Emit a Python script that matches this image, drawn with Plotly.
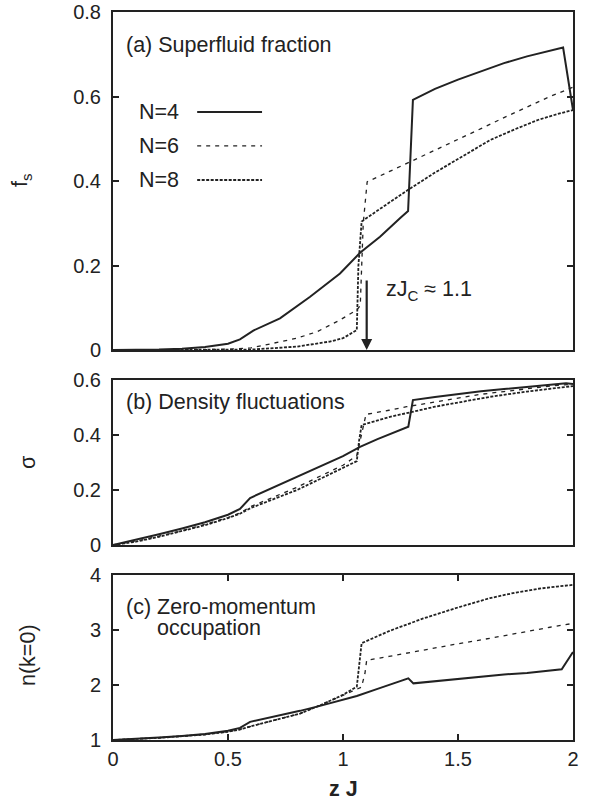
import plotly.graph_objects as go

# ---------------- data ----------------
# Panel (a): superfluid fraction f_s vs zJ
fs_n4_x = [0, 0.1, 0.2, 0.3, 0.4, 0.5, 0.552, 0.61, 0.726, 0.857, 0.987, 1.074, 1.161, 1.25, 1.283, 1.304, 1.4, 1.5, 1.6, 1.7, 1.8, 1.9, 1.957, 2.0]
fs_n4_y = [0, 0.0003, 0.001, 0.003, 0.007, 0.015, 0.025, 0.046, 0.075, 0.126, 0.181, 0.230, 0.268, 0.313, 0.329, 0.592, 0.618, 0.640, 0.660, 0.679, 0.695, 0.708, 0.716, 0.568]
fs_n6_x = [0, 0.3, 0.5, 0.6, 0.697, 0.8, 0.886, 0.987, 1.06, 1.075, 1.088, 1.10, 1.105, 1.2, 1.3, 1.4, 1.5, 1.6, 1.7, 1.8, 1.9, 2.0]
fs_n6_y = [0, 0, 0.002, 0.005, 0.016, 0.028, 0.043, 0.071, 0.095, 0.105, 0.30, 0.38, 0.398, 0.422, 0.447, 0.473, 0.498, 0.524, 0.55, 0.575, 0.60, 0.622]
fs_n8_x = [0, 0.4, 0.6, 0.8, 0.943, 1.0, 1.06, 1.067, 1.081, 1.15, 1.2, 1.283, 1.4, 1.5, 1.64, 1.75, 1.85, 1.93, 2.0]
fs_n8_y = [0, 0, 0.001, 0.008, 0.02, 0.028, 0.047, 0.2, 0.304, 0.33, 0.349, 0.379, 0.42, 0.452, 0.497, 0.523, 0.545, 0.558, 0.568]

# Panel (b): density fluctuations sigma vs zJ
sg_n4_x = [0, 0.1, 0.2, 0.3, 0.4, 0.5, 0.552, 0.596, 0.7, 0.8, 0.9, 1.0, 1.074, 1.15, 1.284, 1.304, 1.4, 1.5, 1.6, 1.7, 1.8, 1.9, 1.97, 2.0]
sg_n4_y = [0, 0.019, 0.039, 0.06, 0.083, 0.11, 0.131, 0.171, 0.21, 0.246, 0.283, 0.323, 0.357, 0.385, 0.43, 0.527, 0.538, 0.549, 0.559, 0.567, 0.575, 0.582, 0.588, 0.585]
sg_n6_x = [0, 0.1, 0.2, 0.3, 0.4, 0.5, 0.55, 0.6, 0.7, 0.8, 0.9, 1.0, 1.06, 1.08, 1.10, 1.2, 1.277, 1.4, 1.5, 1.6, 1.7, 1.8, 1.9, 2.0]
sg_n6_y = [0, 0.014, 0.032, 0.052, 0.075, 0.1, 0.116, 0.14, 0.175, 0.21, 0.25, 0.29, 0.325, 0.4, 0.475, 0.49, 0.503, 0.52, 0.535, 0.548, 0.558, 0.568, 0.578, 0.585]
sg_n8_x = [0, 0.1, 0.2, 0.3, 0.4, 0.5, 0.55, 0.6, 0.7, 0.8, 0.9, 1.0, 1.06, 1.07, 1.081, 1.2, 1.304, 1.4, 1.5, 1.64, 1.8, 1.9, 2.0]
sg_n8_y = [0, 0.012, 0.03, 0.05, 0.072, 0.098, 0.113, 0.135, 0.168, 0.2, 0.24, 0.28, 0.305, 0.38, 0.436, 0.465, 0.485, 0.503, 0.518, 0.539, 0.558, 0.569, 0.578]

# Panel (c): zero-momentum occupation n(k=0) vs zJ
nk_n4_x = [0, 0.1, 0.2, 0.3, 0.4, 0.5, 0.552, 0.596, 0.7, 0.813, 0.9, 1.0, 1.06, 1.15, 1.284, 1.306, 1.4, 1.5, 1.6, 1.7, 1.8, 1.951, 2.0]
nk_n4_y = [1, 1.02, 1.045, 1.075, 1.11, 1.17, 1.22, 1.33, 1.42, 1.53, 1.62, 1.73, 1.8, 1.93, 2.12, 2.03, 2.07, 2.11, 2.15, 2.19, 2.22, 2.285, 2.6]
nk_n6_x = [0, 0.1, 0.2, 0.3, 0.4, 0.5, 0.55, 0.6, 0.7, 0.813, 0.9, 1.0, 1.08, 1.095, 1.103, 1.2, 1.3, 1.4, 1.5, 1.6, 1.7, 1.8, 1.9, 2.0]
nk_n6_y = [1, 1.015, 1.04, 1.07, 1.1, 1.15, 1.19, 1.25, 1.36, 1.48, 1.63, 1.82, 1.96, 2.2, 2.45, 2.52, 2.6, 2.67, 2.75, 2.82, 2.9, 2.97, 3.05, 3.12]
nk_n8_x = [0, 0.1, 0.2, 0.3, 0.4, 0.5, 0.55, 0.6, 0.7, 0.813, 0.9, 1.0, 1.06, 1.07, 1.081, 1.2, 1.349, 1.5, 1.639, 1.75, 1.85, 1.93, 2.0]
nk_n8_y = [1, 1.015, 1.04, 1.07, 1.1, 1.15, 1.19, 1.25, 1.36, 1.48, 1.63, 1.82, 1.97, 2.4, 2.76, 2.98, 3.21, 3.41, 3.58, 3.68, 3.75, 3.79, 3.82]

series_names = ["N=4", "N=6", "N=8"]
x_ticks = [0, 0.5, 1, 1.5, 2]
x_tick_labels = ["0", "0.5", "1", "1.5", "2"]
fs_ticks = [0, 0.2, 0.4, 0.6, 0.8]
fs_tick_labels = ["0", "0.2", "0.4", "0.6", "0.8"]
sg_ticks = [0, 0.2, 0.4, 0.6]
sg_tick_labels = ["0", "0.2", "0.4", "0.6"]
nk_ticks = [1, 2, 3, 4]
nk_tick_labels = ["1", "2", "3", "4"]

# ---------------- styling ----------------
INK = "#222222"
FONT = "Liberation Sans, Arial, Helvetica, sans-serif"
FS = 20      # tick labels
FA = 21.5    # annotation text
styles = [
    dict(color=INK, width=2.0, dash="solid"),
    dict(color=INK, width=1.3, dash="4px,5px"),
    dict(color=INK, width=1.8, dash="3px,1.5px"),
]

fig = go.Figure()

panels = [
    ("x", "y", [(fs_n4_x, fs_n4_y), (fs_n6_x, fs_n6_y), (fs_n8_x, fs_n8_y)]),
    ("x2", "y2", [(sg_n4_x, sg_n4_y), (sg_n6_x, sg_n6_y), (sg_n8_x, sg_n8_y)]),
    ("x3", "y3", [(nk_n4_x, nk_n4_y), (nk_n6_x, nk_n6_y), (nk_n8_x, nk_n8_y)]),
]
for xa, ya, data in panels:
    for (xs, ys), st, name in zip(data, styles, series_names):
        fig.add_trace(go.Scatter(x=xs, y=ys, mode="lines", line=st, name=name,
                                 xaxis=xa, yaxis=ya, showlegend=False, hoverinfo="skip"))

# plot area geometry (pixels): left 113, right 573, top 12, bottom 740
W, H = 598, 804
ML, MR, MT, MB = 113, 25, 12, 64
ph = H - MT - MB
pw = W - ML - MR


def dom(top_px, bot_px):
    return [(H - MB - bot_px) / ph, (H - MB - top_px) / ph]


common_x = dict(range=[0, 2], showline=True, linecolor=INK, linewidth=2, mirror=True,
                showgrid=False, zeroline=False, tickvals=x_ticks, ticktext=x_tick_labels,
                automargin=False)
common_y = dict(showline=True, linecolor=INK, linewidth=2, mirror="ticks", showgrid=False,
                zeroline=False, ticks="inside", ticklen=6, tickwidth=1.5, tickcolor=INK,
                tickfont=dict(size=FS, color=INK), ticklabelstandoff=6, automargin=False)

fig.update_layout(
    width=W, height=H,
    margin=dict(l=ML, r=MR, t=MT, b=MB, autoexpand=False),
    paper_bgcolor="white", plot_bgcolor="white",
    font=dict(family=FONT, size=FA, color=INK),
    showlegend=False,
    xaxis=dict(**common_x, anchor="y", showticklabels=False, ticks=""),
    xaxis2=dict(**common_x, anchor="y2", showticklabels=False, ticks="", matches="x"),
    xaxis3=dict(**common_x, anchor="y3", ticks="inside", ticklen=6, tickwidth=1.5, tickcolor=INK,
                tickfont=dict(size=FS, color=INK), matches="x"),
    yaxis=dict(**common_y, domain=dom(12, 350), range=[0, 0.8], tickvals=fs_ticks, ticktext=fs_tick_labels, anchor="x"),
    yaxis2=dict(**common_y, domain=dom(380, 545), range=[0, 0.6], tickvals=sg_ticks, ticktext=sg_tick_labels, anchor="x2"),
    yaxis3=dict(**common_y, domain=dom(575, 740), range=[1, 4], tickvals=nk_ticks, ticktext=nk_tick_labels, anchor="x3"),
)

# xaxis3 mirrored ticks on top
fig.update_layout(xaxis3=dict(mirror="ticks"))

ann = []
# panel titles
ann.append(dict(text="(a) Superfluid fraction", xref="x domain", yref="y domain", x=0.024, y=0.902,
                xanchor="left", yanchor="middle", showarrow=False))
ann.append(dict(text="(b) Density fluctuations", xref="x2 domain", yref="y2 domain", x=0.024, y=0.867,
                xanchor="left", yanchor="middle", showarrow=False))
ann.append(dict(text="(c) Zero-momentum", xref="x3 domain", yref="y3 domain", x=0.024, y=0.806,
                xanchor="left", yanchor="middle", showarrow=False))
ann.append(dict(text="occupation", xref="x3 domain", yref="y3 domain", x=0.091, y=0.679,
                xanchor="left", yanchor="middle", showarrow=False))

# legend text (manual, gnuplot-style: text left, sample right)
leg_y = [0.704, 0.604, 0.503]
for name, yy in zip(series_names, leg_y):
    ann.append(dict(text=name, xref="x domain", yref="y domain", x=0.148, y=yy,
                    xanchor="right", yanchor="middle", showarrow=False))

# critical point arrow and label
ann.append(dict(text="", x=1.103, y=0.0, xref="x", yref="y", ax=1.103, ay=0.168, axref="x", ayref="y",
                showarrow=True, arrowhead=2, arrowsize=1, arrowwidth=2.2, arrowcolor=INK))
ann.append(dict(text="zJ<sub>C</sub> ≈ 1.1", x=1.18, y=0.142, xref="x", yref="y",
                xanchor="left", yanchor="middle", showarrow=False))

# axis titles
ann.append(dict(text="f<sub>s</sub>", xref="paper", yref="paper", x=(22 - ML) / pw, y=(H - MB - 180) / ph,
                textangle=-90, xanchor="center", yanchor="middle", showarrow=False))
ann.append(dict(text="σ", xref="paper", yref="paper", x=(28 - ML) / pw, y=(H - MB - 463) / ph,
                textangle=-90, xanchor="center", yanchor="middle", showarrow=False))
ann.append(dict(text="n(k=0)", xref="paper", yref="paper", x=(28 - ML) / pw, y=(H - MB - 655) / ph,
                textangle=-90, xanchor="center", yanchor="middle", showarrow=False))
ann.append(dict(text="<b>z J</b>", xref="paper", yref="paper", x=0.5, y=(H - MB - 789) / ph,
                xanchor="center", yanchor="middle", showarrow=False))
fig.update_layout(annotations=ann)

# legend line samples
shapes = []
for st, yy in zip(styles, leg_y):
    shapes.append(dict(type="line", xref="x domain", yref="y domain", x0=0.183, x1=0.324, y0=yy, y1=yy,
                       line=dict(color=st["color"], width=st["width"], dash=st["dash"])))
fig.update_layout(shapes=shapes)

fig.write_html("out.html", config={"displayModeBar": False},
               post_script="document.body.style.margin='0';")
